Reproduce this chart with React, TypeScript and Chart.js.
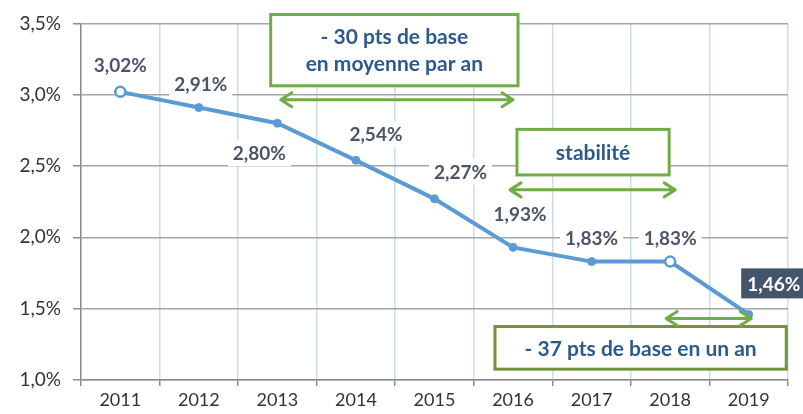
import React, { useEffect, useRef } from "react";
import { Chart, registerables } from "chart.js";

Chart.register(...registerables);

const years = ["2011", "2012", "2013", "2014", "2015", "2016", "2017", "2018", "2019"];
const rates = [3.02, 2.91, 2.8, 2.54, 2.27, 1.93, 1.83, 1.83, 1.46];
const rateLabels = ["3,02%", "2,91%", "2,80%", "2,54%", "2,27%", "1,93%", "1,83%", "1,83%", "1,46%"];
const yMin = 1.0;
const yMax = 3.5;
const yStep = 0.5;

// label placement relative to each point (px)
const labelOffsets: [number, number][] = [
  [0, -27], [2, -24], [-18, 30], [20, -26], [26, -27], [7, -33], [0, -24], [0, -24], [25, -31],
];
const hollowPoints = [0, 7];
const highlightedLabel = 8;

// annotation boxes (in category-index / value units)
const noteTexts = [["- 30 pts de base", "en moyenne par an"], ["stabilité"], ["- 37 pts de base en un an"]];
const noteBoxes = [
  { x0: 1.915, x1: 5.063, y0: 3.5625, y1: 3.0625, border: "#70ad47" },
  { x0: 5.05, x1: 6.987, y0: 2.757, y1: 2.4375, border: "#70ad47" },
  { x0: 4.77, x1: 8.478, y0: 1.375, y1: 1.076, border: "#76923c" },
];
const arrowSpans = [
  { x0: 2.043, x1: 4.999, y: 2.965 },
  { x0: 4.961, x1: 7.064, y: 2.333 },
  { x0: 6.949, x1: 8.032, y: 1.431 },
];

const FONT = "Lato, 'Open Sans', sans-serif";

const overlayPlugin = {
  id: "overlay",
  afterDatasetsDraw(chart: any) {
    const ctx = chart.ctx as CanvasRenderingContext2D;
    const xs = chart.scales.x;
    const ys = chart.scales.y;
    ctx.save();

    // data labels
    const meta = chart.getDatasetMeta(0);
    ctx.font = `bold 19px ${FONT}`;
    ctx.textAlign = "center";
    ctx.textBaseline = "middle";
    meta.data.forEach((pt: any, i: number) => {
      const [dx, dy] = labelOffsets[i];
      const cx = pt.x + dx;
      const cy = pt.y + dy;
      const txt = rateLabels[i];
      const w = ctx.measureText(txt).width;
      if (i === highlightedLabel) {
        ctx.fillStyle = "#44546a";
        ctx.fillRect(cx - w / 2 - 6, cy - 15, w + 12, 30);
        ctx.fillStyle = "#ffffff";
      } else {
        ctx.fillStyle = "#ffffff";
        ctx.fillRect(cx - w / 2 - 5, cy - 13, w + 10, 26);
        ctx.fillStyle = "#4a5568";
      }
      ctx.fillText(txt, cx, cy + 1);
    });

    // annotation boxes
    noteBoxes.forEach((b, k) => {
      const l = xs.getPixelForValue(b.x0);
      const r = xs.getPixelForValue(b.x1);
      const t = ys.getPixelForValue(b.y0);
      const bt = ys.getPixelForValue(b.y1);
      ctx.fillStyle = "#ffffff";
      ctx.fillRect(l, t, r - l, bt - t);
      ctx.strokeStyle = b.border;
      ctx.lineWidth = 3;
      ctx.strokeRect(l, t, r - l, bt - t);
      const lines = noteTexts[k];
      ctx.fillStyle = "#2c5a8c";
      ctx.font = `bold 21px ${FONT}`;
      const lh = 27;
      const mid = (t + bt) / 2;
      lines.forEach((s, j) => {
        ctx.fillText(s, (l + r) / 2, mid + (j - (lines.length - 1) / 2) * lh + 1);
      });
    });

    // double arrows
    ctx.strokeStyle = "#70ad47";
    ctx.lineWidth = 3;
    ctx.lineCap = "round";
    ctx.lineJoin = "round";
    arrowSpans.forEach((a) => {
      const l = xs.getPixelForValue(a.x0);
      const r = xs.getPixelForValue(a.x1);
      const y = ys.getPixelForValue(a.y);
      ctx.beginPath();
      ctx.moveTo(l, y);
      ctx.lineTo(r, y);
      ctx.moveTo(l + 11, y - 7);
      ctx.lineTo(l, y);
      ctx.lineTo(l + 11, y + 7);
      ctx.moveTo(r - 11, y - 7);
      ctx.lineTo(r, y);
      ctx.lineTo(r - 11, y + 7);
      ctx.stroke();
    });

    ctx.restore();
  },
};

export default function App() {
  const ref = useRef<HTMLCanvasElement | null>(null);
  useEffect(() => {
    if (!ref.current) return;
    const chart = new Chart(ref.current, {
      type: "line",
      data: {
        labels: years,
        datasets: [
          {
            data: rates,
            borderColor: "#5b9bd5",
            borderWidth: 4,
            pointRadius: rates.map((_, i) => (hollowPoints.includes(i) ? 5 : 4)),
            pointBackgroundColor: rates.map((_, i) => (hollowPoints.includes(i) ? "#ffffff" : "#5b9bd5")),
            pointBorderColor: "#5b9bd5",
            pointBorderWidth: rates.map((_, i) => (hollowPoints.includes(i) ? 2.5 : 1)),
            tension: 0,
          },
        ],
      },
      options: {
        responsive: false,
        animation: false,
        layout: { padding: { top: 20, right: 15, left: 0, bottom: 0 } },
        plugins: { legend: { display: false }, tooltip: { enabled: false } },
        scales: {
          x: {
            offset: true,
            grid: {
              offset: true,
              color: "#c9ddf5",
              lineWidth: 1.5,
              tickColor: "#8c8c8c",
              tickLength: 6,
            },
            border: { color: "#8c8c8c", width: 1.5 },
            ticks: { color: "#333333", font: { family: FONT, size: 18 }, padding: 3 },
            afterFit: (s: any) => {
              s.height = 34;
            },
          },
          y: {
            min: yMin,
            max: yMax,
            grid: { color: "#a6a6a6", lineWidth: 1.5, tickLength: 8, tickColor: "#8c8c8c" },
            border: { color: "#8c8c8c", width: 1.5 },
            ticks: {
              stepSize: yStep,
              color: "#333333",
              font: { family: FONT, size: 19 },
              padding: 12,
              callback: (v: any) => Number(v).toFixed(1).replace(".", ",") + "%",
            },
            afterFit: (s: any) => {
              s.width = 81;
            },
          },
        },
      },
      plugins: [overlayPlugin],
    });
    return () => chart.destroy();
  }, []);
  return (
    <div style={{ position: "fixed", left: 0, top: 0, width: 803, height: 414, background: "#fff" }}>
      <canvas ref={ref} width={803} height={414} />
    </div>
  );
}
